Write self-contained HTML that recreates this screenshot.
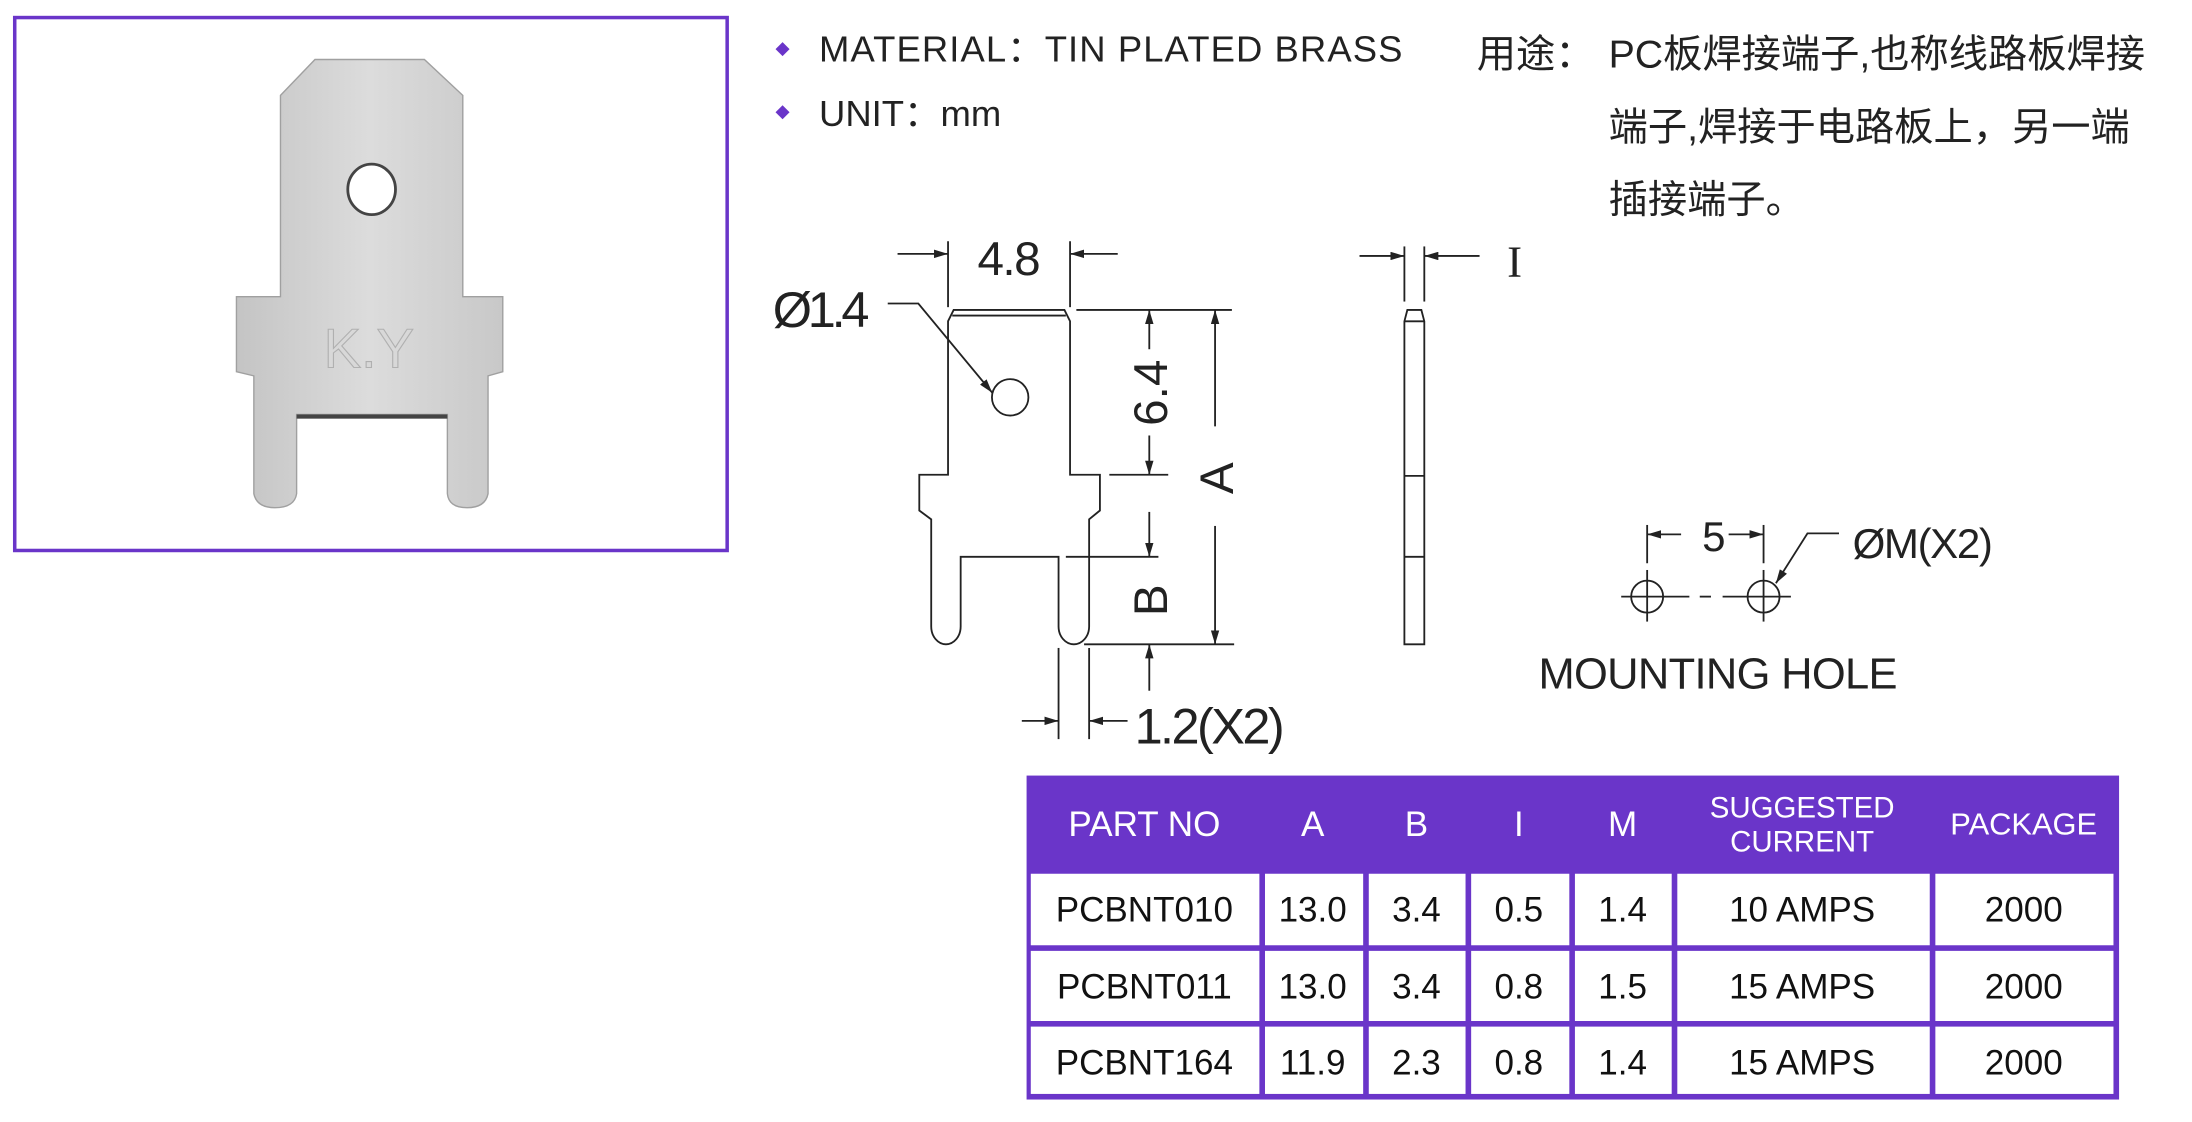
<!DOCTYPE html>
<html><head><meta charset="utf-8"><style>
html,body{margin:0;padding:0;background:#fff;}
svg{display:block;}
.n{font-family:"Liberation Sans Narrow","Liberation Sans",sans-serif;fill:#222;}
.s{font-family:"Liberation Sans","Noto Sans CJK SC",sans-serif;}
</style></head><body>
<svg width="2192" height="1122" viewBox="0 0 1563 800" xmlns="http://www.w3.org/2000/svg">
<defs>
<marker id="ar" viewBox="0 0 10 6" refX="10" refY="3" markerWidth="10" markerHeight="6" markerUnits="userSpaceOnUse" orient="auto">
<path d="M0,0 L10,3 L0,6 Z" fill="#222"/></marker>
<linearGradient id="mt" x1="0" y1="0" x2="1" y2="0">
<stop offset="0" stop-color="#c4c4c4"/><stop offset="0.5" stop-color="#dcdcdc"/><stop offset="1" stop-color="#c8c8c8"/></linearGradient>
</defs>
<rect width="1563" height="800" fill="#fff"/>

<!-- photo box -->
<rect x="10.5" y="12.5" width="508" height="380" fill="#fff" stroke="#6a35c9" stroke-width="2.5"/>
<path d="M200,68 L224.6,42.4 L302.6,42.4 L330,68 L330,211.5 L358.5,211.5 L358.5,265 L348,268 L348,352 Q346,362 333,362 Q320,362 319,352 L319,295.5 L211.5,295.5 L211.5,352 Q210,362 196,362 Q183,362 181,352 L181,268 L168.6,265 L168.6,211.5 L200,211.5 Z" fill="url(#mt)" stroke="#a0a0a0" stroke-width="1"/>
<rect x="211.5" y="295.5" width="107.5" height="3" fill="#444"/>
<ellipse cx="265" cy="135" rx="17" ry="18" fill="#fff" stroke="#444" stroke-width="2"/>
<text x="263" y="262" font-family="Liberation Sans" font-size="40" fill="#d8d8d8" stroke="#b0b0b0" stroke-width="0.8" text-anchor="middle">K.Y</text>

<!-- header text -->
<path d="M558,30 L563,35 L558,40 L553,35 Z" fill="#6a35c9"/>
<path d="M558,75 L563,80 L558,85 L553,80 Z" fill="#6a35c9"/>
<text class="s" x="584" y="44" font-size="26" fill="#222" textLength="416">MATERIAL：TIN PLATED BRASS</text>
<text class="s" x="584" y="90" font-size="26" fill="#222">UNIT：mm</text>
<text class="s" x="1053" y="48" font-size="28" fill="#222">用途：</text>
<text class="s" x="1147" y="48" font-size="28" fill="#222">PC板焊接端子,也称线路板焊接</text>
<text class="s" x="1147" y="100" font-size="28" fill="#222">端子,焊接于电路板上，另一端</text>
<text class="s" x="1147" y="152" font-size="28" fill="#222">插接端子。</text>

<!-- drawing -->
<g fill="none" stroke="#222" stroke-width="1.3">
<path d="M676,229 L680,221 L759,221 L763,229 L763,338.5 L784.3,338.5 L784.3,364 L776.6,370.3 L776.6,446.7 A10.9,12.7 0 0 1 754.8,446.7 L754.8,397 L685,397 L685,446.7 A10.5,12.7 0 0 1 664,446.7 L664,370.3 L655.5,364 L655.5,338.5 L676,338.5 Z"/>
<line x1="679" y1="225" x2="760" y2="225"/>
<circle cx="720.3" cy="283.3" r="13"/>
<line x1="676" y1="172" x2="676" y2="219"/><line x1="763" y1="172" x2="763" y2="219"/>
<line x1="640" y1="181" x2="676" y2="181" marker-end="url(#ar)"/>
<line x1="797" y1="181" x2="763" y2="181" marker-end="url(#ar)"/>
<polyline points="633,216.4 654.8,216.4 707.5,280" marker-end="url(#ar)"/>
<line x1="767.5" y1="221" x2="878.4" y2="221"/>
<line x1="791" y1="338.5" x2="833" y2="338.5"/>
<line x1="760" y1="397" x2="826" y2="397"/>
<line x1="773" y1="459.4" x2="880" y2="459.4"/>
<line x1="819.5" y1="249" x2="819.5" y2="221" marker-end="url(#ar)"/>
<line x1="819.5" y1="310.5" x2="819.5" y2="338.5" marker-end="url(#ar)"/>
<line x1="819.5" y1="365" x2="819.5" y2="397" marker-end="url(#ar)"/>
<line x1="819.5" y1="492.5" x2="819.5" y2="459.4" marker-end="url(#ar)"/>
<line x1="866.4" y1="304" x2="866.4" y2="221" marker-end="url(#ar)"/>
<line x1="866.4" y1="375" x2="866.4" y2="459.4" marker-end="url(#ar)"/>
<line x1="754.8" y1="462" x2="754.8" y2="527"/><line x1="776.6" y1="462" x2="776.6" y2="527"/>
<line x1="728.6" y1="514" x2="754.8" y2="514" marker-end="url(#ar)"/>
<line x1="804" y1="514" x2="776.6" y2="514" marker-end="url(#ar)"/>
<path d="M1001.4,229.1 L1003.5,221 L1013.5,221 L1015.6,229.1 L1015.6,459.4 L1001.4,459.4 Z"/>
<line x1="1001.4" y1="229.1" x2="1015.6" y2="229.1"/>
<line x1="1001.4" y1="339.3" x2="1015.6" y2="339.3"/>
<line x1="1001.4" y1="397" x2="1015.6" y2="397"/>
<line x1="1001.4" y1="175.7" x2="1001.4" y2="215"/><line x1="1015.6" y1="175.7" x2="1015.6" y2="215"/>
<line x1="969.4" y1="182.5" x2="1001.4" y2="182.5" marker-end="url(#ar)"/>
<line x1="1055" y1="182.5" x2="1015.6" y2="182.5" marker-end="url(#ar)"/>
<circle cx="1174.5" cy="425.4" r="11.4"/><circle cx="1257.5" cy="425.4" r="11.4"/>
<line x1="1156" y1="425.4" x2="1204.6" y2="425.4"/>
<line x1="1212" y1="425.4" x2="1220" y2="425.4"/>
<line x1="1228.3" y1="425.4" x2="1277" y2="425.4"/>
<line x1="1174.5" y1="406.4" x2="1174.5" y2="443.2"/>
<line x1="1257.5" y1="406.4" x2="1257.5" y2="443.2"/>
<line x1="1174.5" y1="374.3" x2="1174.5" y2="401.6"/>
<line x1="1257.5" y1="374.3" x2="1257.5" y2="401.6"/>
<line x1="1198.7" y1="381" x2="1174.5" y2="381" marker-end="url(#ar)"/>
<line x1="1232.6" y1="381" x2="1257.5" y2="381" marker-end="url(#ar)"/>
<polyline points="1311.3,380.3 1288.8,380.3 1266.3,415.9" marker-end="url(#ar)"/>
</g>
<text class="n" x="719.5" y="196" font-size="34" text-anchor="middle" textLength="45">4.8</text>
<text class="n" x="551" y="233" font-size="36" textLength="69">Ø1.4</text>
<text class="n" font-size="34" text-anchor="middle" dominant-baseline="central" transform="translate(821,280) rotate(-90)">6.4</text>
<text class="n" font-size="34" text-anchor="middle" dominant-baseline="central" transform="translate(821,428) rotate(-90)">B</text>
<text class="n" font-size="34" text-anchor="middle" dominant-baseline="central" transform="translate(868,341) rotate(-90)">A</text>
<text class="n" x="809" y="530" font-size="36" textLength="107">1.2(X2)</text>
<text x="1080" y="197" font-size="32" text-anchor="middle" font-family="Liberation Serif" fill="#222">I</text>
<text class="n" x="1222" y="393" font-size="30" text-anchor="middle">5</text>
<text class="n" x="1321" y="398" font-size="30" textLength="100">ØM(X2)</text>
<text class="s" x="1097" y="491" font-size="31" fill="#222" textLength="256">MOUNTING  HOLE</text>

<!-- table -->
<rect x="732" y="553" width="779" height="231" fill="#6a35c9"/>
<g fill="#fff">
<rect x="735" y="623" width="163" height="51"/><rect x="902" y="623" width="70" height="51"/><rect x="976" y="623" width="69" height="51"/><rect x="1049" y="623" width="70" height="51"/><rect x="1123" y="623" width="69" height="51"/><rect x="1196" y="623" width="180" height="51"/><rect x="1380" y="623" width="127" height="51"/>
<rect x="735" y="678" width="163" height="50"/><rect x="902" y="678" width="70" height="50"/><rect x="976" y="678" width="69" height="50"/><rect x="1049" y="678" width="70" height="50"/><rect x="1123" y="678" width="69" height="50"/><rect x="1196" y="678" width="180" height="50"/><rect x="1380" y="678" width="127" height="50"/>
<rect x="735" y="732" width="163" height="48"/><rect x="902" y="732" width="70" height="48"/><rect x="976" y="732" width="69" height="48"/><rect x="1049" y="732" width="70" height="48"/><rect x="1123" y="732" width="69" height="48"/><rect x="1196" y="732" width="180" height="48"/><rect x="1380" y="732" width="127" height="48"/>
</g>
<g class="s" font-size="25" fill="#fff" text-anchor="middle">
<text x="816" y="596">PART NO</text><text x="936" y="596">A</text><text x="1010" y="596">B</text><text x="1083" y="596">I</text><text x="1157" y="596">M</text>
<text x="1285" y="583" font-size="21">SUGGESTED</text><text x="1285" y="607" font-size="21">CURRENT</text>
<text x="1443" y="595" font-size="22">PACKAGE</text>
</g>
<g class="s" font-size="25" fill="#111" text-anchor="middle">
<text x="816" y="657">PCBNT010</text><text x="936" y="657">13.0</text><text x="1010" y="657">3.4</text><text x="1083" y="657">0.5</text><text x="1157" y="657">1.4</text><text x="1285" y="657">10 AMPS</text><text x="1443" y="657">2000</text>
<text x="816" y="712">PCBNT011</text><text x="936" y="712">13.0</text><text x="1010" y="712">3.4</text><text x="1083" y="712">0.8</text><text x="1157" y="712">1.5</text><text x="1285" y="712">15 AMPS</text><text x="1443" y="712">2000</text>
<text x="816" y="766">PCBNT164</text><text x="936" y="766">11.9</text><text x="1010" y="766">2.3</text><text x="1083" y="766">0.8</text><text x="1157" y="766">1.4</text><text x="1285" y="766">15 AMPS</text><text x="1443" y="766">2000</text>
</g>
</svg>
</body></html>
